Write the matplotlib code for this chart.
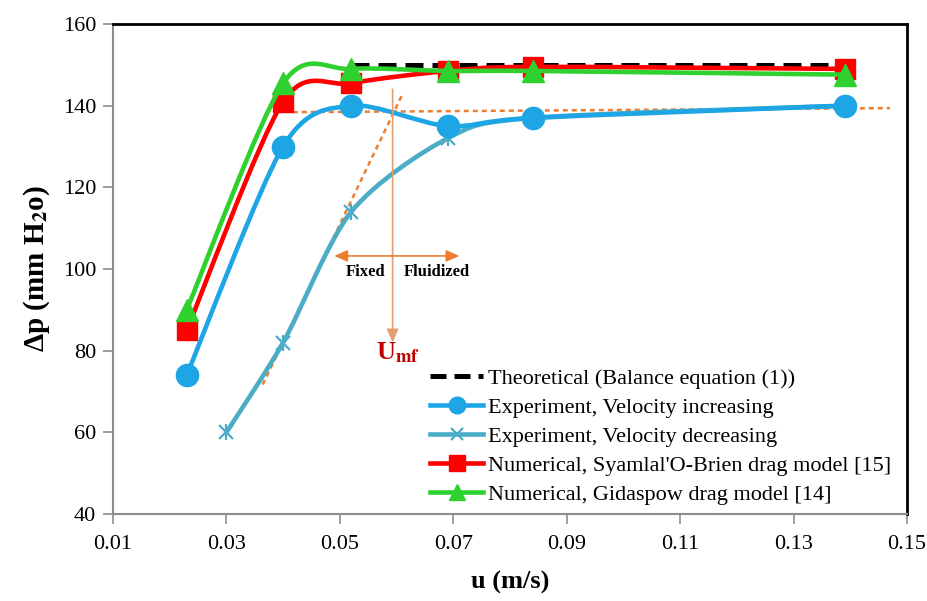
import numpy as np
import matplotlib
matplotlib.use("Agg")
import matplotlib.pyplot as plt
from matplotlib.path import Path
from matplotlib.patches import PathPatch
from matplotlib.lines import Line2D

plt.rcParams['font.family'] = ['Liberation Serif', 'DejaVu Serif']
plt.rcParams['mathtext.fontset'] = 'stix'

# ---- data ----
x_theory = [0.052, 0.069, 0.084, 0.139]
y_theory = [150, 150, 150, 150]

x_inc = [0.023, 0.040, 0.052, 0.069, 0.084, 0.139]
y_inc = [74, 130, 140, 135, 137, 140]

x_dec = [0.030, 0.040, 0.052, 0.069, 0.084, 0.139]
y_dec = [60, 82, 114, 132, 137, 140]

x_sy = [0.023, 0.040, 0.052, 0.069, 0.084, 0.139]
y_sy = [85, 141, 145.5, 148.5, 149.5, 149]

x_gi = [0.023, 0.040, 0.052, 0.069, 0.084, 0.139]
y_gi = [90, 145.5, 149, 148.5, 148.5, 147.6]

x_ticks = [0.01, 0.03, 0.05, 0.07, 0.09, 0.11, 0.13, 0.15]
y_ticks = [40, 60, 80, 100, 120, 140, 160]

labels = ["Theoretical (Balance equation (1))",
          "Experiment, Velocity increasing",
          "Experiment, Velocity decreasing",
          "Numerical, Syamlal'O-Brien drag model [15]",
          "Numerical, Gidaspow drag model [14]"]

# guide lines (Umf construction)
umf_x = 0.0593
umf_top, umf_bot = 144.0, 82.0
fixed_line_x = [0.0364, 0.0609]
fixed_line_y = [71.7, 142.4]
plateau_x = [0.0417, 0.147]
plateau_y = [138.4, 139.4]
arrow_y = 103.2
arrow_left, arrow_right = 0.0490, 0.0711

c_inc = '#1DA5E6'
c_dec = '#4BACC6'
c_red = '#FF0000'
c_green = '#2FD12F'
c_orange = '#ED7D31'


def smooth_path(xs, ys, k=7.0):
    pts = np.column_stack([xs, ys]).astype(float)
    n = len(pts)
    verts = [pts[0]]
    codes = [Path.MOVETO]
    for i in range(n - 1):
        p0 = pts[i - 1] if i > 0 else pts[i]
        p1 = pts[i]
        p2 = pts[i + 1]
        p3 = pts[i + 2] if i + 2 < n else pts[i + 1]
        b1 = p1 + (p2 - p0) / k
        b2 = p2 - (p3 - p1) / k
        verts += [b1, b2, p2]
        codes += [Path.CURVE4] * 3
    return Path(verts, codes)


fig = plt.figure(figsize=(9.28, 6.01), dpi=100)
ax = fig.add_axes([113 / 928, 1 - 514 / 601, 794 / 928, 490 / 601])
ax.set_xlim(0.01, 0.15)
ax.set_ylim(40, 160)

# guide lines
ax.plot(plateau_x, plateau_y, color=c_orange, lw=1.8, ls=(0, (2, 1.6)), zorder=2)
ax.plot(fixed_line_x, fixed_line_y, color=c_orange, lw=1.8, ls=(0, (2, 1.6)), zorder=2)

lw = 3.3
for xs, ys, col, z in [(x_dec, y_dec, c_dec, 3), (x_inc, y_inc, c_inc, 4),
                       (x_sy, y_sy, c_red, 5), (x_gi, y_gi, c_green, 6)]:
    ax.add_patch(PathPatch(smooth_path(xs, ys), fill=False, edgecolor=col,
                           lw=lw, transform=ax.transData, zorder=z, capstyle='round'))

ax.plot(x_theory, y_theory, color='black', lw=3.6, ls=(0, (3.6, 1.8)), zorder=4.5)

# markers
ax.plot(x_dec, y_dec, ls='none', marker='x', ms=10, mew=1.6, color=c_dec, zorder=3)
ax.plot(x_dec, y_dec, ls='none', marker='|', ms=12, mew=1.6, color=c_dec, zorder=3)
ax.plot(x_inc, y_inc, ls='none', marker='o', ms=16, color=c_inc, zorder=4)
ax.plot(x_sy, y_sy, ls='none', marker='s', ms=15, color=c_red, zorder=5)
ax.plot(x_gi, y_gi, ls='none', marker='^', ms=16, color=c_green, zorder=6)

# Umf arrows
ax.annotate('', xy=(umf_x, umf_bot), xytext=(umf_x, umf_top),
            arrowprops=dict(arrowstyle='-|>,head_length=0.8,head_width=0.35',
                            color='#E2A070', lw=1.2, shrinkA=0, shrinkB=0), zorder=7)
for xe in (arrow_left, arrow_right):
    ax.annotate('', xy=(xe, arrow_y), xytext=(umf_x, arrow_y),
                arrowprops=dict(arrowstyle='-|>,head_length=0.8,head_width=0.35',
                                color=c_orange, lw=1.2, shrinkA=0, shrinkB=0), zorder=7)
ax.text(0.0546, arrow_y - 2.0, 'Fixed', ha='center', va='top', fontsize=12,
        fontweight='bold')
ax.text(0.0671, arrow_y - 2.0, 'Fluidized', ha='center', va='top', fontsize=12,
        fontweight='bold')
ax.text(0.0603, 79.4, r'U$_{\mathbf{mf}}$', ha='center', va='center', fontsize=19,
        fontweight='bold', color='#C00000')

# axes styling
ax.set_xticks(x_ticks)
ax.set_yticks(y_ticks)
ax.set_xticklabels([f'{v:.2f}' for v in x_ticks])
ax.set_yticklabels([str(v) for v in y_ticks])
ax.tick_params(axis='both', direction='out', length=7, width=1.2, color='#8C8C8C',
               labelsize=16)
ax.tick_params(axis='x', pad=8)
ax.tick_params(axis='y', pad=5)
for s in ('left', 'bottom'):
    ax.spines[s].set_color('#8C8C8C')
    ax.spines[s].set_linewidth(1.5)
for s in ('top', 'right'):
    ax.spines[s].set_color('black')
    ax.spines[s].set_linewidth(2)

ax.set_xlabel('u (m/s)', fontsize=19, fontweight='bold', labelpad=12)
ax.set_ylabel(r'Δp (mm H$_{\mathbf{2}}$o)', fontsize=21, fontweight='bold', labelpad=8)

handles = [
    Line2D([], [], color='black', lw=3.6, ls=(0, (3.2, 1.6))),
    Line2D([], [], color=c_inc, lw=lw, marker='o', ms=12),
    Line2D([], [], color=c_dec, lw=lw, marker='x', ms=9, mew=1.6),
    Line2D([], [], color=c_red, lw=lw, marker='s', ms=11),
    Line2D([], [], color=c_green, lw=lw, marker='^', ms=12),
]
ax.legend(handles, labels, loc='upper left', bbox_to_anchor=((430 - 113) / 794, (514 - 368) / 490),
          frameon=False, fontsize=16, handlelength=2.4, handletextpad=0.2,
          labelspacing=0.38, borderpad=0, borderaxespad=0)

fig.savefig('out.png', dpi=100)
